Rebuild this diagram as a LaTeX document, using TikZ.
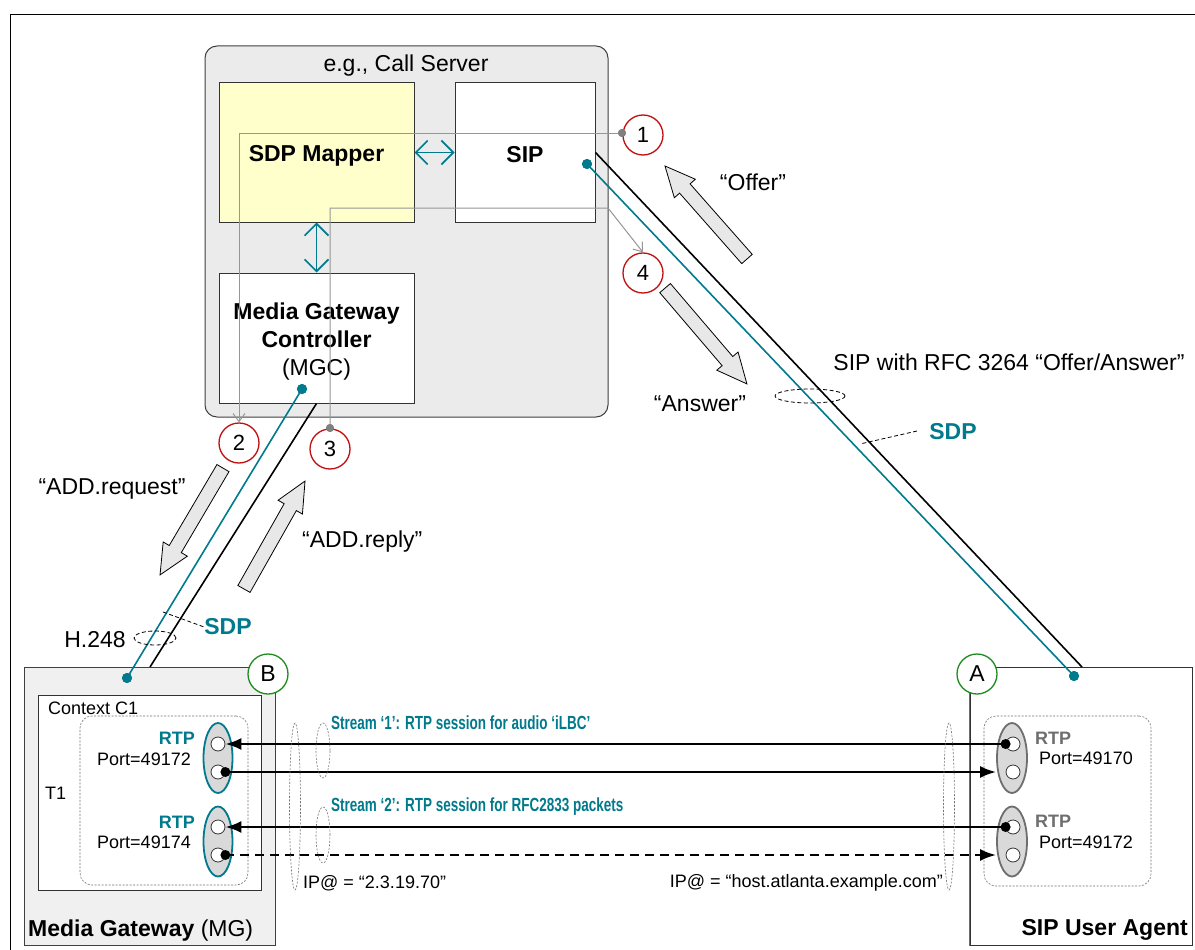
\documentclass[tikz,border=0pt]{standalone}
\usepackage{fontspec}
\setmainfont{Liberation Sans}
\newfontfamily\narrowfont[FakeStretch=0.71]{Liberation Sans}
\usetikzlibrary{shapes.geometric,arrows.meta,calc}

\definecolor{tealc}{RGB}{0,122,140}
\definecolor{redc}{RGB}{192,16,16}
\definecolor{greenc}{RGB}{30,140,30}
\definecolor{csfill}{RGB}{235,235,235}
\definecolor{mgfill}{RGB}{240,240,240}
\definecolor{mapfill}{RGB}{255,255,204}
\definecolor{arrfill}{RGB}{232,232,232}
\definecolor{ellfill}{RGB}{217,217,217}
\definecolor{grayln}{RGB}{150,150,150}
\definecolor{uagray}{RGB}{110,110,110}

\begin{document}
\begin{tikzpicture}[x=1pt,y=-1pt,
  big/.style={font=\fontsize{23}{28}\selectfont, inner sep=0pt},
  bigb/.style={font=\fontsize{23}{28}\selectfont\bfseries, inner sep=0pt},
  small/.style={font=\fontsize{18}{21}\selectfont, inner sep=0pt},
  smallb/.style={font=\fontsize{18}{21}\selectfont\bfseries, inner sep=0pt},
  streamtxt/.style={font=\narrowfont\fontsize{19}{22}\selectfont\bfseries, text=tealc, inner sep=0pt},
  boxst/.style={draw=black!80, line width=1pt, inner sep=0pt},
  numc/.style={circle, draw=redc, line width=1.3pt, fill=white, minimum size=40pt, inner sep=0pt, font=\fontsize{22}{26}\selectfont},
  letc/.style={circle, draw=greenc, line width=1.3pt, fill=white, minimum size=40pt, inner sep=0pt, font=\fontsize{23}{26}\selectfont},
  tealdbl/.style={draw=tealc, line width=1.6pt, {Straight Barb[length=12pt,width=24pt]}-{Straight Barb[length=12pt,width=24pt]}},
  gline/.style={draw=grayln, line width=1pt},
  garrow/.style={gline, -{Straight Barb[length=8pt,width=12pt]}},
  gdot/.style={circle, fill=black!50, minimum size=8pt, inner sep=0pt},
  tdot/.style={circle, fill=tealc, minimum size=10pt, inner sep=0pt},
  bdot/.style={circle, fill=black, minimum size=10pt, inner sep=0pt},
  wcirc/.style={circle, draw=black!80, line width=0.8pt, fill=white, minimum size=14pt, inner sep=0pt},
  blkarrow/.style={draw=black, line width=0.8pt, fill=arrfill, line join=miter},
  dellb/.style={ellipse, draw=black, dash pattern=on 4pt off 2.5pt, line width=0.8pt, inner sep=0pt},
  dellg/.style={ellipse, draw=black!55, dash pattern=on 2pt off 1.5pt, line width=0.6pt, inner sep=0pt},
  leader/.style={draw=black, dash pattern=on 4pt off 2.5pt, line width=0.8pt},
  stream/.style={draw=black, line width=2.4pt},
  streamtip/.style={-{Latex[length=16pt,width=12pt]}},
  rtpb/.style={ellipse, draw=tealc, line width=1.8pt, fill=ellfill, minimum width=29pt, minimum height=70pt, inner sep=0pt},
  rtpa/.style={ellipse, draw=uagray, line width=1.8pt, fill=ellfill, minimum width=30pt, minimum height=70pt, inner sep=0pt},
  dbox/.style={draw=black!55, dash pattern=on 2pt off 1.5pt, line width=0.6pt, rounded corners=12pt, inner sep=0pt}
]
\useasboundingbox (0,0) rectangle (1195,950);
\fill[white] (0,0) rectangle (1195,950);
\draw[line width=0.8pt] (10,950) -- (10,14) -- (1195,14);

% ---------- Call server ----------
\node[draw=black!75, line width=1pt, fill=csfill, rounded corners=12pt, minimum width=403pt, minimum height=371pt, inner sep=0pt] (cs) at (406.5,231.5) {};
\node[big] (cslbl) at (406,66) {e.g., Call Server};
\node[boxst, fill=mapfill, minimum width=195pt, minimum height=139pt] (map) at (316.5,152.5) {};
\node[bigb] (maplbl) at (316.5,156) {SDP Mapper};
\node[boxst, fill=white, minimum width=140pt, minimum height=139pt] (sip) at (525,152.5) {};
\node[bigb] (siplbl) at (525,155) {SIP};
\node[boxst, fill=white, minimum width=195pt, minimum height=130pt] (mgc) at (316.5,338) {};
\node[align=center, inner sep=0pt, font=\fontsize{23}{28}\selectfont] (mgclbl) at (316.5,342) {\textbf{Media Gateway}\\\textbf{Controller}\\(MGC)};
\draw[tealdbl] (map.east) -- (sip.west);
\draw[tealdbl] (map.south) -- (mgc.north);

% ---------- Media gateway ----------
\node[draw=black!75, line width=1pt, fill=mgfill, minimum width=251pt, minimum height=278pt, inner sep=0pt] (mg) at (149.5,806) {};
\node[boxst, fill=white, minimum width=223pt, minimum height=195pt] (ctx) at (149.5,792.5) {};
\node[dbox, minimum width=168pt, minimum height=169pt] (t1box) at (164,800.5) {};
\node[small, anchor=west] (ctxlbl) at (48,708) {Context C1};
\node[small, anchor=west] (t1lbl) at (45,793) {T1};
\node[anchor=west, inner sep=0pt, font=\fontsize{23}{28}\selectfont] (mglbl) at (28,931) {\textbf{Media Gateway} (MG)};

% ---------- SIP user agent ----------
\node[draw=black!80, line width=1pt, fill=white, minimum width=222pt, minimum height=278pt, inner sep=0pt] (ua) at (1081,806) {};
\draw[uagray, line width=1.8pt] (ua.north west) -- (ua.south west);
\node[dbox, minimum width=167pt, minimum height=170pt] (uabox) at (1067.5,801) {};
\node[bigb, anchor=east] (ualbl) at (1188,930) {SIP User Agent};

% ---------- signalling lines ----------
\coordinate (uatop) at (1082,667);
\coordinate (mgtop) at (150,667);
\node[tdot] (tsip) at (587,164) {};
\node[tdot] (tua) at (1074,676) {};
\node[tdot] (tmgc) at (302,389) {};
\node[tdot] (tmg) at (127,678) {};
\draw[line width=1.6pt] (sip.east) -- (uatop);
\draw[tealc, line width=1.6pt] (tsip.center) -- (tua.center);
\draw[line width=1.6pt] (mgc.south) -- (mgtop);
\draw[tealc, line width=1.6pt] (tmgc.center) -- (tmg.center);
\node[tdot] at (tsip) {};
\node[tdot] at (tua) {};
\node[tdot] at (tmgc) {};
\node[tdot] at (tmg) {};

% ---------- numbered circles and gray flows ----------
\node[numc] (c1) at (643,135) {1};
\node[numc] (c2) at (239,443) {2};
\node[numc] (c3) at (330,449) {3};
\node[numc] (c4) at (643,273) {4};
\node[gdot] (g1) at (622,133) {};
\node[gdot] (g3) at (330,428) {};
\coordinate (bend4) at (608,208);
\draw[garrow] (g1.center) -| (c2.north);
\draw[garrow] (g3.center) |- (bend4) -- (c4.north);
\node[gdot] at (g1) {};
\node[gdot] at (g3) {};

% ---------- block arrows ----------
\begin{scope}[shift={(706,212.5)}, rotate=131.4]
  \draw[blkarrow] (-62,-7) -- (32,-7) -- (32,-14) -- (62,0) -- (32,14) -- (32,7) -- (-62,7) -- cycle;
\end{scope}
\begin{scope}[shift={(706,336)}, rotate=-49.5]
  \draw[blkarrow] (-63,-7) -- (33,-7) -- (33,-14) -- (63,0) -- (33,14) -- (33,7) -- (-63,7) -- cycle;
\end{scope}
\begin{scope}[shift={(191.5,521.5)}, rotate=-120.5]
  \draw[blkarrow] (-62,-7) -- (32,-7) -- (32,-14) -- (62,0) -- (32,14) -- (32,7) -- (-62,7) -- cycle;
\end{scope}
\begin{scope}[shift={(274.5,535)}, rotate=60.5]
  \draw[blkarrow] (-62,-7) -- (32,-7) -- (32,-14) -- (62,0) -- (32,14) -- (32,7) -- (-62,7) -- cycle;
\end{scope}

% ---------- labels ----------
\node[big] (offer) at (753,182) {“Offer”};
\node[big] (answer) at (700,404) {“Answer”};
\node[big] (addreq) at (112,489) {“ADD.request”};
\node[big, anchor=west] (addrep) at (302,542) {“ADD.reply”};
\node[big] (siprfc) at (1009,362) {SIP with RFC 3264 “Offer/Answer”};
\node[dellb, minimum width=70pt, minimum height=14pt] (e1) at (810,396) {};
\node[bigb, text=tealc] (sdp1) at (953,432) {SDP};
\coordinate (s1a) at (917,431);
\coordinate (s1b) at (860,444);
\draw[leader] (s1a) -- (s1b);
\node[big] (h248) at (95,640) {H.248};
\node[dellb, minimum width=42pt, minimum height=14pt] (e2) at (155,638) {};
\node[bigb, text=tealc] (sdp2) at (228,627) {SDP};
\coordinate (s2a) at (163,612);
\draw[leader] (s2a) -- (sdp2.west);

% ---------- circles A / B ----------
\node[letc] (cb) at (268,674) {B};
\node[letc] (ca) at (977,674) {A};

% ---------- RTP terminations ----------
\node[rtpb] (eb1) at (218,758) {};
\node[rtpb] (eb2) at (218,841.5) {};
\node[rtpa] (ea1) at (1012,758) {};
\node[rtpa] (ea2) at (1012,841.5) {};
\node[wcirc] (b11) at (218,744) {};
\node[wcirc] (b12) at (218,772) {};
\node[wcirc] (b21) at (218,827) {};
\node[wcirc] (b22) at (218,855) {};
\node[wcirc] (a11) at (1013,744) {};
\node[wcirc] (a12) at (1013,772) {};
\node[wcirc] (a21) at (1013,827) {};
\node[wcirc] (a22) at (1013,855) {};
\node[smallb, text=tealc, anchor=east] (rb1) at (195,738) {RTP};
\node[small, anchor=east] (pb1) at (191,759) {Port=49172};
\node[smallb, text=tealc, anchor=east] (rb2) at (195,822) {RTP};
\node[small, anchor=east] (pb2) at (191,842) {Port=49174};
\node[smallb, text=uagray, anchor=west] (ra1) at (1035,738) {RTP};
\node[small, anchor=west] (pa1) at (1039,758) {Port=49170};
\node[smallb, text=uagray, anchor=west] (ra2) at (1035,821) {RTP};
\node[small, anchor=west] (pa2) at (1039,842) {Port=49172};

% ---------- media streams ----------
\draw[stream, streamtip] (a11.west) -- (b11.east);
\draw[stream, streamtip] (b12.east) -- (b12.east -| ea1.west);
\draw[stream, streamtip] (a21.west) -- (b21.east);
\draw[stream, streamtip, dash pattern=on 9pt off 6pt] (b22.east) -- (b22.east -| ea2.west);
\node[bdot] (d1) at (a11.west) {};
\node[bdot] (d2) at (b12.east) {};
\node[bdot] (d3) at (a21.west) {};
\node[bdot] (d4) at (b22.east) {};

\node[streamtxt, anchor=west] (st1) at (331,723) {Stream ‘1’: RTP session for audio ‘iLBC’};
\node[streamtxt, anchor=west] (st2) at (331,807) {Stream ‘2’: RTP session for RFC2833 packets};

\node[dellg, minimum width=11pt, minimum height=167pt] (eipb) at (295,806.5) {};
\node[dellg, minimum width=14pt, minimum height=55pt] (es1) at (323,750.5) {};
\node[dellg, minimum width=14pt, minimum height=56pt] (es2) at (323,835) {};
\node[dellg, minimum width=11pt, minimum height=167pt] (eipa) at (949,806.5) {};
\node[small, anchor=west] (ipb) at (303,883) {IP@ = “2.3.19.70”};
\node[small, anchor=east] (ipa) at (943,883) {IP@ = “host.atlanta.example.com”};
\end{tikzpicture}
\end{document}
